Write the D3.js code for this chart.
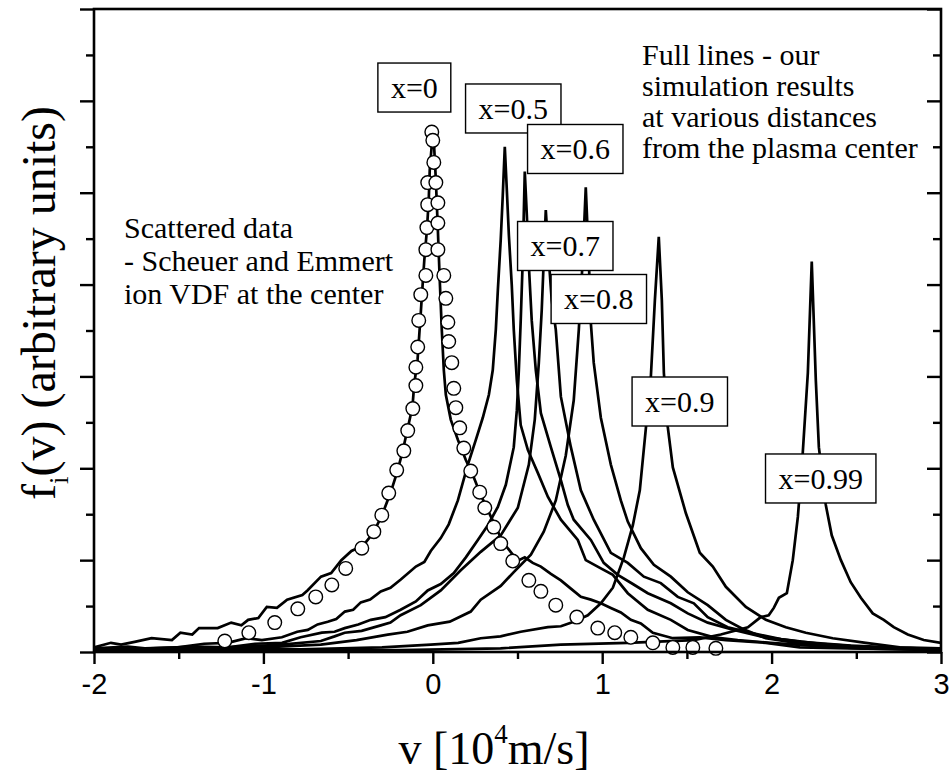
<!DOCTYPE html>
<html>
<head>
<meta charset="utf-8">
<script src="https://cdn.jsdelivr.net/npm/d3@7"></script>
<style>
  body { margin: 0; background: #fff; }
</style>
</head>
<body>
<svg id="chart" width="952" height="774"></svg>
<script>
const SERIF = '"Liberation Serif", "DejaVu Serif", serif';
const SANS = '"Liberation Sans", Arial, sans-serif';

// v in 10^4 m/s, f in arbitrary units
const curve00 = [[-2.00,0.05],[-1.90,0.10],[-1.84,0.08],[-1.76,0.11],[-1.66,0.15],[-1.54,0.13],[-1.49,0.21],[-1.42,0.19],[-1.38,0.26],[-1.27,0.26],[-1.19,0.32],[-1.13,0.29],[-1.09,0.35],[-1.03,0.37],[-0.98,0.49],[-0.92,0.48],[-0.86,0.57],[-0.77,0.62],[-0.74,0.67],[-0.66,0.82],[-0.60,0.86],[-0.54,1.00],[-0.48,1.10],[-0.41,1.16],[-0.35,1.30],[-0.30,1.49],[-0.25,1.73],[-0.21,1.96],[-0.18,2.17],[-0.15,2.42],[-0.12,2.67],[-0.11,2.91],[-0.09,3.18],[-0.08,3.45],[-0.07,3.72],[-0.06,4.00],[-0.05,4.27],[-0.035,4.59],[-0.024,4.92],[-0.018,5.25],[-0.006,5.52],[0,5.61],
  [0.006,5.57],[0.018,5.14],[0.030,4.59],[0.041,4.05],[0.053,3.51],[0.065,3.07],[0.077,2.80],[0.106,2.53],[0.148,2.31],[0.195,2.09],[0.236,1.93],[0.283,1.71],[0.331,1.52],[0.372,1.36],[0.413,1.20],[0.472,1.06],[0.508,1.00],[0.543,1.03],[0.590,0.97],[0.638,0.93],[0.697,0.85],[0.756,0.78],[0.815,0.69],[0.874,0.60],[0.933,0.57],[0.992,0.53],[1.051,0.48],[1.110,0.43],[1.169,0.35],[1.228,0.31],[1.299,0.21],[1.417,0.15],[1.576,0.16],[1.730,0.13],[1.966,0.10],[2.166,0.05],[2.462,0.04],[2.763,0.03],[3.0,0.02]];

const curve05 = [[-2.00,0.04],[-1.80,0.06],[-1.70,0.04],[-1.505,0.05],[-1.35,0.09],[-1.21,0.10],[-1.10,0.15],[-1.009,0.13],[-0.891,0.16],[-0.80,0.22],[-0.738,0.24],[-0.68,0.30],[-0.62,0.33],[-0.57,0.36],[-0.519,0.44],[-0.47,0.46],[-0.425,0.54],[-0.37,0.57],[-0.307,0.66],[-0.25,0.70],[-0.189,0.79],[-0.10,0.93],[-0.05,0.98],[-0.012,1.10],[0.047,1.24],[0.094,1.39],[0.148,1.65],[0.207,2.04],[0.254,2.31],[0.295,2.55],[0.331,2.80],[0.354,3.07],[0.372,3.51],[0.384,3.94],[0.401,4.49],[0.413,4.97],[0.425,5.50],
  [0.437,5.03],[0.449,4.54],[0.466,4.00],[0.478,3.51],[0.496,2.96],[0.519,2.47],[0.561,2.20],[0.62,1.95],[0.679,1.69],[0.756,1.44],[0.856,1.22],[0.903,1.00],[0.992,0.91],[1.063,0.84],[1.151,0.64],[1.269,0.46],[1.405,0.35],[1.505,0.24],[1.659,0.16],[1.80,0.13],[1.995,0.10],[2.231,0.07],[2.527,0.04],[3.0,0.02]];

const curve06 = [[-2.00,0.03],[-1.665,0.04],[-1.40,0.06],[-1.21,0.05],[-1.05,0.09],[-0.89,0.10],[-0.78,0.16],[-0.655,0.21],[-0.58,0.22],[-0.52,0.26],[-0.44,0.30],[-0.366,0.35],[-0.28,0.38],[-0.19,0.46],[-0.10,0.55],[-0.03,0.67],[0.047,0.74],[0.124,0.86],[0.195,1.03],[0.266,1.22],[0.325,1.38],[0.384,1.58],[0.431,1.82],[0.478,2.23],[0.496,2.63],[0.508,3.07],[0.519,3.61],[0.531,4.27],[0.537,4.76],[0.543,5.23],
  [0.555,4.76],[0.567,4.21],[0.584,3.61],[0.608,3.07],[0.638,2.60],[0.697,2.23],[0.756,1.87],[0.797,1.60],[0.832,1.44],[0.933,1.22],[1.009,0.97],[1.092,0.84],[1.181,0.74],[1.269,0.64],[1.405,0.53],[1.505,0.42],[1.623,0.32],[1.777,0.24],[1.936,0.17],[2.172,0.11],[2.467,0.07],[3.0,0.03]];

const curve07 = [[-2.00,0.02],[-1.665,0.03],[-1.40,0.05],[-1.21,0.05],[-0.89,0.08],[-0.661,0.12],[-0.58,0.17],[-0.52,0.21],[-0.42,0.23],[-0.307,0.29],[-0.25,0.32],[-0.19,0.40],[-0.071,0.51],[0.047,0.67],[0.165,0.89],[0.283,1.09],[0.401,1.27],[0.502,1.57],[0.567,2.04],[0.602,2.53],[0.626,3.15],[0.643,3.72],[0.655,4.27],[0.667,4.81],
  [0.685,4.27],[0.702,3.83],[0.726,3.51],[0.756,2.78],[0.815,2.23],[0.874,1.76],[0.95,1.44],[1.051,1.08],[1.151,0.97],[1.246,0.82],[1.346,0.75],[1.446,0.60],[1.541,0.53],[1.623,0.38],[1.741,0.27],[1.877,0.21],[2.054,0.14],[2.29,0.09],[2.586,0.05],[3.0,0.03]];

const curve08 = [[-2.00,0.02],[-1.37,0.03],[-1.0,0.05],[-0.661,0.08],[-0.45,0.13],[-0.266,0.19],[-0.15,0.22],[-0.03,0.29],[0.10,0.33],[0.224,0.44],[0.283,0.57],[0.401,0.72],[0.478,0.87],[0.579,1.06],[0.655,1.31],[0.726,1.65],[0.785,2.14],[0.832,2.74],[0.862,3.51],[0.885,4.27],[0.903,5.06],
  [0.921,4.27],[0.933,3.58],[0.95,3.15],[0.992,2.55],[1.051,2.04],[1.11,1.65],[1.151,1.42],[1.228,1.13],[1.305,0.95],[1.405,0.82],[1.505,0.65],[1.623,0.51],[1.73,0.35],[1.83,0.25],[1.966,0.15],[2.172,0.09],[2.467,0.05],[3.0,0.02]];

const curve09 = [[-2.00,0.02],[-0.779,0.03],[-0.30,0.05],[-0.012,0.08],[0.15,0.10],[0.283,0.15],[0.40,0.17],[0.519,0.22],[0.679,0.27],[0.756,0.28],[0.832,0.33],[0.915,0.40],[0.992,0.53],[1.063,0.70],[1.128,1.03],[1.181,1.38],[1.222,1.76],[1.257,2.42],[1.287,2.99],[1.311,3.83],[1.334,4.52],
  [1.352,3.83],[1.364,3.04],[1.387,2.45],[1.417,2.01],[1.494,1.51],[1.576,1.08],[1.653,0.93],[1.73,0.71],[1.848,0.49],[1.966,0.35],[2.084,0.27],[2.202,0.21],[2.361,0.15],[2.556,0.10],[2.757,0.05],[3.0,0.04]];

const curve099 = [[-2.00,0.01],[-0.19,0.02],[0.40,0.04],[0.756,0.08],[1.151,0.10],[1.541,0.13],[1.70,0.19],[1.86,0.27],[1.936,0.38],[1.983,0.40],[2.013,0.48],[2.043,0.59],[2.09,0.64],[2.125,1.00],[2.155,1.47],[2.184,2.17],[2.214,3.04],[2.237,4.25],
  [2.261,2.96],[2.279,2.23],[2.32,1.60],[2.355,1.27],[2.409,1.00],[2.467,0.76],[2.527,0.59],[2.597,0.42],[2.662,0.35],[2.721,0.27],[2.804,0.19],[2.898,0.13],[3.0,0.10]];

// Scheuer and Emmert measured ion VDF at the centre
const scatterData = [[-1.228,0.12],[-1.086,0.21],[-0.933,0.32],[-0.797,0.47],[-0.691,0.60],[-0.596,0.73],[-0.514,0.91],[-0.419,1.13],[-0.348,1.31],[-0.301,1.49],[-0.26,1.73],[-0.213,1.98],[-0.171,2.19],[-0.148,2.41],[-0.118,2.65],[-0.10,2.90],[-0.10,3.10],[-0.089,3.32],[-0.083,3.61],[-0.071,3.89],[-0.041,4.10],[-0.041,4.38],[-0.035,4.62],[-0.03,4.87],[-0.03,5.11],[-0.006,5.66],[0.0,5.57],[0.006,5.33],[0.018,5.11],[0.03,4.89],[0.03,4.67],[0.03,4.38],[0.065,4.10],[0.077,3.85],[0.089,3.59],[0.094,3.38],[0.112,3.15],[0.124,2.87],[0.136,2.66],[0.159,2.44],[0.183,2.22],[0.224,1.97],[0.277,1.74],[0.307,1.57],[0.36,1.36],[0.401,1.18],[0.472,0.99],[0.567,0.78],[0.638,0.66],[0.726,0.51],[0.85,0.38],[0.974,0.26],[1.074,0.21],[1.169,0.16],[1.299,0.10],[1.417,0.05],[1.535,0.05],[1.671,0.04]];

const curves = [curve00, curve05, curve06, curve07, curve08, curve09, curve099];
const curveLabels = ["x=0", "x=0.5", "x=0.6", "x=0.7", "x=0.8", "x=0.9", "x=0.99"];
// label box centres, in data units
const labelV = [-0.109, 0.475, 0.841, 0.782, 0.980, 1.458, 2.290];
const labelF = [6.145, 5.917, 5.476, 4.420, 3.843, 2.727, 1.889];

const xMajor = [-2, -1, 0, 1, 2, 3];
const xMinor = [-1.5, -0.5, 0.5, 1.5, 2.5];
const yMajor = [0, 1, 2, 3, 4, 5, 6, 7];
const yMinor = [0.5, 1.5, 2.5, 3.5, 4.5, 5.5, 6.5];

const noteLeft = ["Scattered data", "- Scheuer and Emmert", "ion VDF at the center"];
const noteRight = ["Full lines - our", "simulation results", "at various distances", "from the plasma center"];

var margin = { top: 9, right: 11, bottom: 122, left: 94 },
    width = 952 - margin.left - margin.right,
    height = 774 - margin.top - margin.bottom;

var svg = d3.select('#chart');
var g = svg.append('g').attr('transform', 'translate(' + margin.left + ',' + margin.top + ')');

var x = d3.scaleLinear().domain([-2, 3]).range([0, width]);
var y = d3.scaleLinear().domain([0, 7]).range([height, 0]);

svg.append('defs').append('clipPath').attr('id', 'plot-clip')
    .append('rect').attr('width', width).attr('height', height);

var line = d3.line().x(d => x(d[0])).y(d => y(d[1]));

// simulation curves
g.append('g').attr('clip-path', 'url(#plot-clip)')
    .selectAll('path')
    .data(curves)
    .join('path')
    .attr('d', line)
    .attr('fill', 'none')
    .attr('stroke', '#000')
    .attr('stroke-width', 2.7);

// measured points
g.append('g')
    .selectAll('circle')
    .data(scatterData)
    .join('circle')
    .attr('cx', d => x(d[0]))
    .attr('cy', d => y(d[1]))
    .attr('r', 6.8)
    .attr('fill', '#fff')
    .attr('stroke', '#000')
    .attr('stroke-width', 1.4);

// axes
function styleAxis(sel) {
    sel.select('.domain').remove();
    sel.selectAll('.tick line').attr('stroke', '#000').attr('stroke-width', 2.4);
}

g.append('g').attr('transform', 'translate(0,' + height + ')')
    .call(d3.axisBottom(x).tickValues(xMajor).tickSize(12).tickPadding(9).tickFormat(d => String(d)))
    .call(styleAxis)
    .call(s => s.selectAll('text').attr('font-family', SANS).attr('font-size', 29).attr('fill', '#000'));
g.append('g').attr('transform', 'translate(0,' + height + ')')
    .call(d3.axisBottom(x).tickValues(xMinor).tickSize(7).tickFormat(''))
    .call(styleAxis);

g.append('g')
    .call(d3.axisLeft(y).tickValues(yMajor).tickSize(14).tickFormat(''))
    .call(styleAxis);
g.append('g')
    .call(d3.axisLeft(y).tickValues(yMinor).tickSize(8).tickFormat(''))
    .call(styleAxis);

// right side ticks point inwards
g.append('g').attr('transform', 'translate(' + width + ',0)')
    .call(d3.axisLeft(y).tickValues(yMajor).tickSize(14).tickFormat(''))
    .call(styleAxis);
g.append('g').attr('transform', 'translate(' + width + ',0)')
    .call(d3.axisLeft(y).tickValues(yMinor).tickSize(8).tickFormat(''))
    .call(styleAxis);

g.append('rect')
    .attr('width', width).attr('height', height)
    .attr('fill', 'none').attr('stroke', '#000').attr('stroke-width', 2.6);

// labels in boxes
var boxes = g.append('g').selectAll('g')
    .data(curveLabels)
    .join('g')
    .attr('transform', (d, i) => 'translate(' + x(labelV[i]) + ',' + y(labelF[i]) + ')');

boxes.append('rect');
boxes.append('text')
    .attr('font-family', SERIF)
    .attr('font-size', 30)
    .attr('text-anchor', 'middle')
    .attr('dy', '0.34em')
    .text(d => d);

boxes.each(function() {
    var b = d3.select(this).select('text').node().getBBox();
    d3.select(this).select('rect')
        .attr('x', -(b.width + 26) / 2)
        .attr('y', -24.5)
        .attr('width', b.width + 26)
        .attr('height', 49)
        .attr('fill', '#fff')
        .attr('stroke', '#000')
        .attr('stroke-width', 1.4);
});

// annotations
svg.append('g').selectAll('text')
    .data(noteLeft)
    .join('text')
    .attr('font-family', SERIF)
    .attr('font-size', 30)
    .attr('x', 124)
    .attr('y', (d, i) => 238 + i * 33)
    .text(d => d);

svg.append('g').selectAll('text')
    .data(noteRight)
    .join('text')
    .attr('font-family', SERIF)
    .attr('font-size', 30)
    .attr('x', 642)
    .attr('y', (d, i) => 65 + i * 31)
    .text(d => d);

// axis titles
var xt = svg.append('text')
    .attr('font-family', SERIF)
    .attr('font-size', 46)
    .attr('x', 494)
    .attr('y', 764)
    .attr('text-anchor', 'middle');
xt.append('tspan').text('v [10');
xt.append('tspan').attr('font-size', 27).attr('dy', -21).text('4');
xt.append('tspan').attr('dy', 21).text('m/s]');

var yt = svg.append('text')
    .attr('font-family', SERIF)
    .attr('font-size', 48)
    .attr('text-anchor', 'middle')
    .attr('transform', 'translate(55,303) rotate(-90)');
yt.append('tspan').text('f');
yt.append('tspan').attr('font-size', 27).attr('dy', 13).text('i');
yt.append('tspan').attr('dy', -13).text('(v) (arbitrary units)');
</script>
</body>
</html>
